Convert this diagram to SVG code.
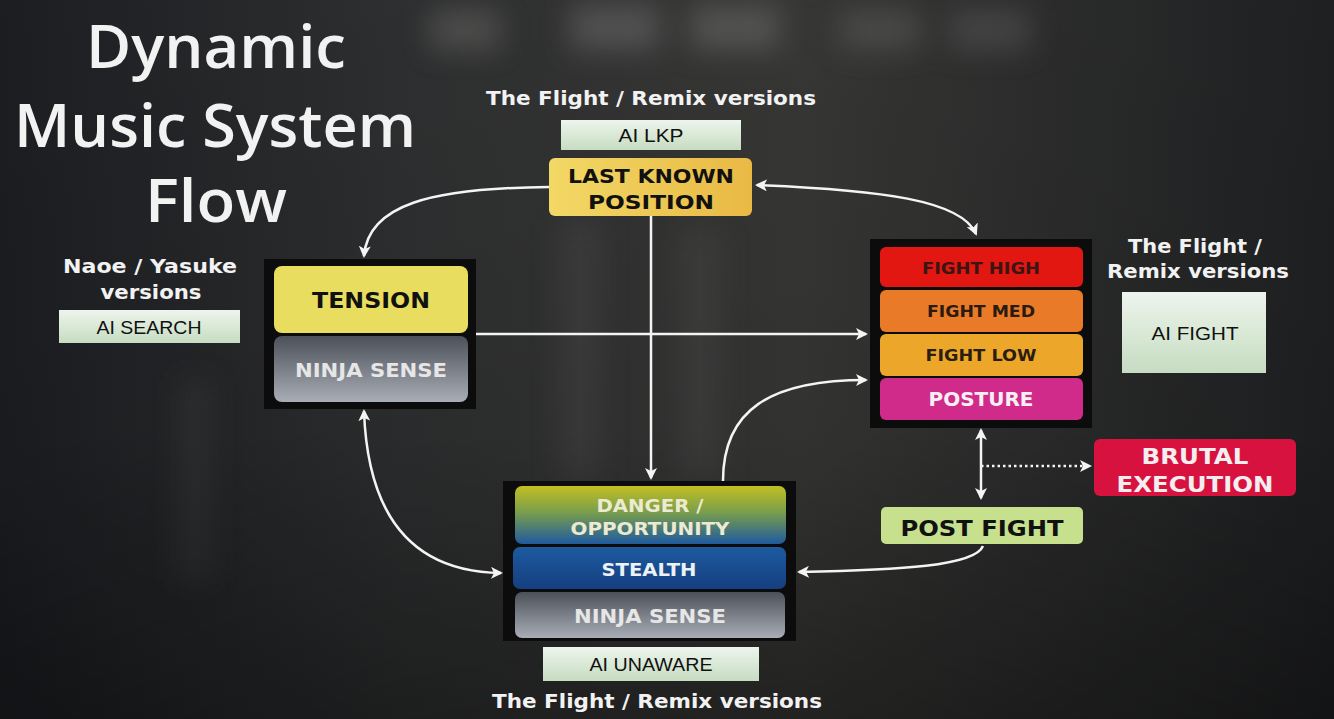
<svg xmlns="http://www.w3.org/2000/svg" width="1334" height="719" viewBox="0 0 1334 719">
<defs>
  <linearGradient id="bg" x1="0" y1="0" x2="1" y2="0">
    <stop offset="0" stop-color="#1d1f23"/>
    <stop offset="0.3" stop-color="#303132"/>
    <stop offset="0.6" stop-color="#393937"/>
    <stop offset="1" stop-color="#202123"/>
  </linearGradient>
  <linearGradient id="bgv" x1="0" y1="0" x2="0" y2="1">
    <stop offset="0" stop-color="#000" stop-opacity="0.05"/>
    <stop offset="0.6" stop-color="#000" stop-opacity="0.12"/>
    <stop offset="1" stop-color="#000" stop-opacity="0.4"/>
  </linearGradient>
  <filter id="blur" x="-50%" y="-50%" width="200%" height="200%"><feGaussianBlur stdDeviation="14"/></filter>
  <linearGradient id="aibox" x1="0" y1="0" x2="0" y2="1">
    <stop offset="0" stop-color="#eef4ee"/>
    <stop offset="0.5" stop-color="#d9e9d6"/>
    <stop offset="1" stop-color="#c6dcc2"/>
  </linearGradient>
  <linearGradient id="lkp" x1="0" y1="0" x2="1" y2="0">
    <stop offset="0" stop-color="#f2d866"/>
    <stop offset="1" stop-color="#e9b944"/>
  </linearGradient>
  <linearGradient id="gray" x1="0" y1="0" x2="0" y2="1">
    <stop offset="0" stop-color="#4c5059"/>
    <stop offset="1" stop-color="#a9adb6"/>
  </linearGradient>
  <linearGradient id="danger" x1="0" y1="0" x2="0" y2="1">
    <stop offset="0" stop-color="#c2bf22"/>
    <stop offset="0.45" stop-color="#7a9e4c"/>
    <stop offset="1" stop-color="#1f5a9e"/>
  </linearGradient>
  <linearGradient id="stealth" x1="0" y1="0" x2="0" y2="1">
    <stop offset="0" stop-color="#1d5aa0"/>
    <stop offset="1" stop-color="#153f80"/>
  </linearGradient>
  <marker id="ah" viewBox="0 0 12 12" refX="10" refY="6" markerWidth="12" markerHeight="12" markerUnits="userSpaceOnUse" orient="auto-start-reverse">
    <path d="M0,0 L12,6 L0,12 L3,6 Z" fill="#f4f4f4"/>
  </marker>
  <marker id="ahs" viewBox="0 0 12 12" refX="10" refY="6" markerWidth="12" markerHeight="12" markerUnits="userSpaceOnUse" orient="auto">
    <path d="M0,0 L12,6 L0,12 L3,6 Z" fill="#f4f4f4"/>
  </marker>
</defs>
<style>
  .title { font-family: "Open Sans", Lato, sans-serif; font-weight: 600; font-size: 60px; fill: #f2f2f2; text-anchor: middle; }
  .cap { font-family: "DejaVu Sans", Verdana, sans-serif; font-weight: bold; font-size: 19px; fill: #f2f2f2; text-anchor: middle; }
  .lbl { font-family: "DejaVu Sans", Verdana, sans-serif; font-weight: bold; text-anchor: middle; }
  .ai { font-family: "Liberation Sans", Arial, sans-serif; font-size: 19px; fill: #111; text-anchor: middle; }
  .back { fill: #0c0c0c; }
  .conn { fill: none; stroke: #f4f4f4; stroke-width: 2.5; }
</style>

<!-- background -->
<rect width="1334" height="719" fill="url(#bg)"/>
<g filter="url(#blur)" opacity="0.55">
  <rect x="430" y="10" width="70" height="40" fill="#6a6a68"/>
  <rect x="570" y="5" width="90" height="45" fill="#707070"/>
  <rect x="690" y="5" width="90" height="45" fill="#707070"/>
  <rect x="840" y="10" width="80" height="40" fill="#606060"/>
  <rect x="950" y="10" width="80" height="40" fill="#5a5a5a"/>
  <rect x="560" y="220" width="40" height="260" fill="#4a4a48"/>
  <rect x="680" y="230" width="40" height="250" fill="#4a4a48"/>
  <rect x="180" y="380" width="30" height="200" fill="#3c3c3c"/>
</g>
<rect width="1334" height="719" fill="url(#bgv)"/>

<!-- title -->
<g id="title">
  <text class="title" x="216" y="68" textLength="260" lengthAdjust="spacingAndGlyphs">Dynamic</text>
  <text class="title" x="215" y="147" textLength="402" lengthAdjust="spacingAndGlyphs">Music System</text>
  <text class="title" x="216" y="222" textLength="142" lengthAdjust="spacingAndGlyphs">Flow</text>
</g>

<!-- connectors -->
<g id="connectors">
  <path class="conn" d="M549,187 C 430,188 368,205 364,256" marker-end="url(#ahs)"/>
  <path class="conn" d="M757,185 C 880,190 962,200 976,234" marker-start="url(#ah)" marker-end="url(#ah)"/>
  <path class="conn" d="M651,216 L651,478" marker-end="url(#ahs)"/>
  <path class="conn" d="M476,334 L866,334" marker-end="url(#ahs)"/>
  <path class="conn" d="M723,481 C 723,410 770,380 866,380" marker-end="url(#ahs)"/>
  <path class="conn" d="M364,411 C 368,525 420,572 501,573" marker-start="url(#ah)" marker-end="url(#ah)"/>
  <path class="conn" d="M983,546 C 975,566 900,570 799,572" marker-end="url(#ahs)"/>
  <path class="conn" d="M981,430 L981,498" marker-start="url(#ah)" marker-end="url(#ah)"/>
  <path class="conn" d="M981,466 L1090,466" stroke-dasharray="2.5 3" marker-end="url(#ahs)"/>
</g>

<!-- Naoe / Yasuke -->
<g id="ai-search">
  <text class="cap" x="150" y="273" textLength="174" lengthAdjust="spacingAndGlyphs">Naoe / Yasuke</text>
  <text class="cap" x="151" y="299" textLength="101" lengthAdjust="spacingAndGlyphs">versions</text>
  <rect x="59" y="310" width="181" height="33" fill="url(#aibox)"/>
  <text class="ai" x="149" y="334" textLength="105" lengthAdjust="spacingAndGlyphs">AI SEARCH</text>
</g>

<!-- Tension group -->
<g id="tension-group">
  <rect class="back" x="264" y="259" width="212" height="150"/>
  <rect x="274" y="266" width="194" height="67" rx="8" fill="#e9dd5f"/>
  <text class="lbl" x="371" y="308" font-size="21" fill="#111" textLength="118" lengthAdjust="spacingAndGlyphs">TENSION</text>
  <rect x="274" y="336" width="194" height="66" rx="8" fill="url(#gray)"/>
  <text class="lbl" x="371" y="377" font-size="19" fill="#e6e6e6" textLength="152" lengthAdjust="spacingAndGlyphs">NINJA SENSE</text>
</g>

<!-- LKP -->
<g id="lkp">
  <text class="cap" x="651" y="105" textLength="330" lengthAdjust="spacingAndGlyphs">The Flight / Remix versions</text>
  <rect x="561" y="120" width="180" height="30" fill="url(#aibox)"/>
  <text class="ai" x="651" y="142" textLength="65" lengthAdjust="spacingAndGlyphs">AI LKP</text>
  <rect x="549" y="158" width="203" height="58" rx="6" fill="url(#lkp)"/>
  <text class="lbl" x="651" y="183" font-size="20" fill="#111" textLength="166" lengthAdjust="spacingAndGlyphs">LAST KNOWN</text>
  <text class="lbl" x="651" y="209" font-size="20" fill="#111" textLength="126" lengthAdjust="spacingAndGlyphs">POSITION</text>
</g>

<!-- Fight group -->
<g id="fight-group">
  <rect class="back" x="870" y="239" width="222" height="189"/>
  <rect x="880" y="247" width="203" height="40" rx="6" fill="#e21712"/>
  <text class="lbl" x="981" y="274" font-size="16" fill="#3a1512" textLength="118" lengthAdjust="spacingAndGlyphs">FIGHT HIGH</text>
  <rect x="880" y="290" width="203" height="42" rx="6" fill="#e97a28"/>
  <text class="lbl" x="981" y="317" font-size="16" fill="#2a1a10" textLength="108" lengthAdjust="spacingAndGlyphs">FIGHT MED</text>
  <rect x="880" y="334" width="203" height="42" rx="6" fill="#eca72b"/>
  <text class="lbl" x="981" y="361" font-size="16" fill="#2a1e10" textLength="111" lengthAdjust="spacingAndGlyphs">FIGHT LOW</text>
  <rect x="880" y="378" width="203" height="42" rx="6" fill="#d02a8b"/>
  <text class="lbl" x="981" y="406" font-size="19" fill="#f6f0f4" textLength="105" lengthAdjust="spacingAndGlyphs">POSTURE</text>
</g>

<!-- AI FIGHT -->
<g id="ai-fight">
  <text class="cap" x="1195" y="253" textLength="134" lengthAdjust="spacingAndGlyphs">The Flight /</text>
  <text class="cap" x="1198" y="278" textLength="182" lengthAdjust="spacingAndGlyphs">Remix versions</text>
  <rect x="1122" y="292" width="144" height="81" fill="url(#aibox)"/>
  <text class="ai" x="1195" y="340" textLength="87" lengthAdjust="spacingAndGlyphs">AI FIGHT</text>
</g>

<!-- Brutal Execution -->
<g id="brutal-execution">
  <rect x="1094" y="439" width="202" height="57" rx="6" fill="#d8123f"/>
  <text class="lbl" x="1195" y="464" font-size="22" fill="#f4eef0" textLength="107" lengthAdjust="spacingAndGlyphs">BRUTAL</text>
  <text class="lbl" x="1195" y="492" font-size="22" fill="#f4eef0" textLength="157" lengthAdjust="spacingAndGlyphs">EXECUTION</text>
</g>

<!-- Post Fight -->
<g id="post-fight">
  <rect x="881" y="507" width="202" height="37" rx="5" fill="#c6e08d"/>
  <text class="lbl" x="982" y="536" font-size="22" fill="#111" textLength="163" lengthAdjust="spacingAndGlyphs">POST FIGHT</text>
</g>

<!-- Danger / Stealth group -->
<g id="stealth-group">
  <rect class="back" x="503" y="481" width="293" height="160"/>
  <rect x="515" y="486" width="271" height="58" rx="7" fill="url(#danger)"/>
  <text class="lbl" x="650" y="512" font-size="18" fill="#ecead2" textLength="107" lengthAdjust="spacingAndGlyphs">DANGER /</text>
  <text class="lbl" x="650" y="535" font-size="18" fill="#ecead2" textLength="159" lengthAdjust="spacingAndGlyphs">OPPORTUNITY</text>
  <rect x="513" y="547" width="273" height="42" rx="7" fill="url(#stealth)"/>
  <text class="lbl" x="649" y="576" font-size="18" fill="#eef2f6" textLength="95" lengthAdjust="spacingAndGlyphs">STEALTH</text>
  <rect x="515" y="592" width="270" height="46" rx="7" fill="url(#gray)"/>
  <text class="lbl" x="650" y="623" font-size="19" fill="#e6e6e6" textLength="152" lengthAdjust="spacingAndGlyphs">NINJA SENSE</text>
</g>

<!-- AI UNAWARE -->
<g id="ai-unaware">
  <rect x="543" y="647" width="216" height="34" fill="url(#aibox)"/>
  <text class="ai" x="651" y="671" textLength="123" lengthAdjust="spacingAndGlyphs">AI UNAWARE</text>
  <text class="cap" x="657" y="708" textLength="330" lengthAdjust="spacingAndGlyphs">The Flight / Remix versions</text>
</g>
</svg>
